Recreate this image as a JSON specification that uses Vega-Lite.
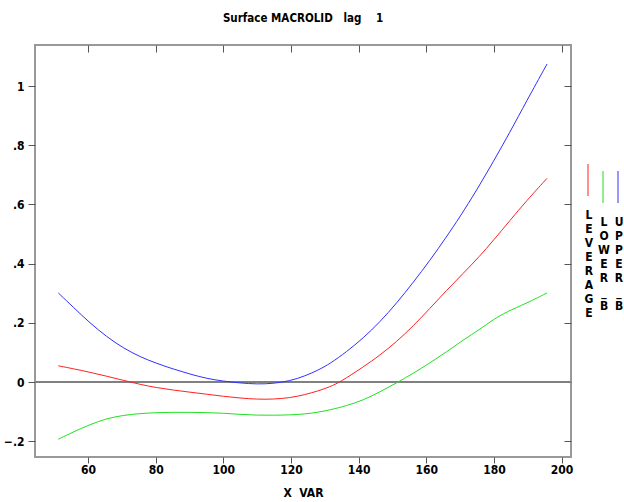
{
  "$schema": "https://vega.github.io/schema/vega-lite/v6.json",
  "width": 536,
  "height": 412,
  "autosize": {"type": "none"},
  "padding": {"left": 35, "top": 45, "right": 53, "bottom": 45},
  "background": "white",
  "title": {"text": "Surface MACROLID\u00a0\u00a0\u00a0lag\u00a0\u00a0\u00a0\u00a01", "fontSize": 11.5, "fontWeight": "bold", "color": "#000", "offset": 20, "anchor": "middle"},
  "data": {"values": [
    {"x": 51.2, "v": 0.301, "series": "UPPER_B"},
    {"x": 55.7, "v": 0.252, "series": "UPPER_B"},
    {"x": 60.6, "v": 0.199, "series": "UPPER_B"},
    {"x": 65.5, "v": 0.153, "series": "UPPER_B"},
    {"x": 70.4, "v": 0.115, "series": "UPPER_B"},
    {"x": 75.4, "v": 0.085, "series": "UPPER_B"},
    {"x": 80.3, "v": 0.063, "series": "UPPER_B"},
    {"x": 85.2, "v": 0.044, "series": "UPPER_B"},
    {"x": 90.1, "v": 0.027, "series": "UPPER_B"},
    {"x": 95.1, "v": 0.012, "series": "UPPER_B"},
    {"x": 100.0, "v": 0.003, "series": "UPPER_B"},
    {"x": 104.9, "v": -0.003, "series": "UPPER_B"},
    {"x": 109.9, "v": -0.007, "series": "UPPER_B"},
    {"x": 114.8, "v": -0.005, "series": "UPPER_B"},
    {"x": 119.7, "v": 0.004, "series": "UPPER_B"},
    {"x": 124.0, "v": 0.020, "series": "UPPER_B"},
    {"x": 128.0, "v": 0.040, "series": "UPPER_B"},
    {"x": 131.5, "v": 0.062, "series": "UPPER_B"},
    {"x": 136.4, "v": 0.102, "series": "UPPER_B"},
    {"x": 141.4, "v": 0.149, "series": "UPPER_B"},
    {"x": 146.3, "v": 0.203, "series": "UPPER_B"},
    {"x": 151.2, "v": 0.266, "series": "UPPER_B"},
    {"x": 156.1, "v": 0.336, "series": "UPPER_B"},
    {"x": 161.1, "v": 0.411, "series": "UPPER_B"},
    {"x": 166.0, "v": 0.491, "series": "UPPER_B"},
    {"x": 169.9, "v": 0.557, "series": "UPPER_B"},
    {"x": 174.9, "v": 0.648, "series": "UPPER_B"},
    {"x": 179.8, "v": 0.744, "series": "UPPER_B"},
    {"x": 184.7, "v": 0.843, "series": "UPPER_B"},
    {"x": 189.6, "v": 0.948, "series": "UPPER_B"},
    {"x": 195.7, "v": 1.074, "series": "UPPER_B"},
    {"x": 51.2, "v": 0.055, "series": "LEVERAGE"},
    {"x": 55.7, "v": 0.045, "series": "LEVERAGE"},
    {"x": 60.6, "v": 0.033, "series": "LEVERAGE"},
    {"x": 65.5, "v": 0.020, "series": "LEVERAGE"},
    {"x": 70.4, "v": 0.006, "series": "LEVERAGE"},
    {"x": 75.4, "v": -0.008, "series": "LEVERAGE"},
    {"x": 80.3, "v": -0.019, "series": "LEVERAGE"},
    {"x": 85.2, "v": -0.027, "series": "LEVERAGE"},
    {"x": 90.1, "v": -0.034, "series": "LEVERAGE"},
    {"x": 95.1, "v": -0.041, "series": "LEVERAGE"},
    {"x": 100.0, "v": -0.048, "series": "LEVERAGE"},
    {"x": 104.9, "v": -0.054, "series": "LEVERAGE"},
    {"x": 109.9, "v": -0.058, "series": "LEVERAGE"},
    {"x": 114.8, "v": -0.058, "series": "LEVERAGE"},
    {"x": 119.7, "v": -0.053, "series": "LEVERAGE"},
    {"x": 124.0, "v": -0.043, "series": "LEVERAGE"},
    {"x": 128.0, "v": -0.030, "series": "LEVERAGE"},
    {"x": 131.5, "v": -0.016, "series": "LEVERAGE"},
    {"x": 134.5, "v": 0.000, "series": "LEVERAGE"},
    {"x": 141.4, "v": 0.051, "series": "LEVERAGE"},
    {"x": 146.3, "v": 0.091, "series": "LEVERAGE"},
    {"x": 151.2, "v": 0.136, "series": "LEVERAGE"},
    {"x": 156.1, "v": 0.189, "series": "LEVERAGE"},
    {"x": 161.1, "v": 0.249, "series": "LEVERAGE"},
    {"x": 166.0, "v": 0.310, "series": "LEVERAGE"},
    {"x": 170.9, "v": 0.367, "series": "LEVERAGE"},
    {"x": 175.8, "v": 0.425, "series": "LEVERAGE"},
    {"x": 179.8, "v": 0.478, "series": "LEVERAGE"},
    {"x": 184.7, "v": 0.545, "series": "LEVERAGE"},
    {"x": 189.6, "v": 0.612, "series": "LEVERAGE"},
    {"x": 195.7, "v": 0.688, "series": "LEVERAGE"},
    {"x": 51.2, "v": -0.193, "series": "LOWER_B"},
    {"x": 55.7, "v": -0.168, "series": "LOWER_B"},
    {"x": 60.6, "v": -0.143, "series": "LOWER_B"},
    {"x": 65.5, "v": -0.123, "series": "LOWER_B"},
    {"x": 70.4, "v": -0.112, "series": "LOWER_B"},
    {"x": 75.4, "v": -0.106, "series": "LOWER_B"},
    {"x": 80.3, "v": -0.103, "series": "LOWER_B"},
    {"x": 85.2, "v": -0.102, "series": "LOWER_B"},
    {"x": 90.1, "v": -0.102, "series": "LOWER_B"},
    {"x": 95.1, "v": -0.103, "series": "LOWER_B"},
    {"x": 100.0, "v": -0.105, "series": "LOWER_B"},
    {"x": 104.9, "v": -0.109, "series": "LOWER_B"},
    {"x": 109.9, "v": -0.112, "series": "LOWER_B"},
    {"x": 114.8, "v": -0.112, "series": "LOWER_B"},
    {"x": 119.7, "v": -0.111, "series": "LOWER_B"},
    {"x": 124.0, "v": -0.108, "series": "LOWER_B"},
    {"x": 128.0, "v": -0.102, "series": "LOWER_B"},
    {"x": 131.5, "v": -0.094, "series": "LOWER_B"},
    {"x": 136.4, "v": -0.080, "series": "LOWER_B"},
    {"x": 141.4, "v": -0.061, "series": "LOWER_B"},
    {"x": 146.3, "v": -0.033, "series": "LOWER_B"},
    {"x": 151.2, "v": -0.003, "series": "LOWER_B"},
    {"x": 156.1, "v": 0.029, "series": "LOWER_B"},
    {"x": 161.1, "v": 0.065, "series": "LOWER_B"},
    {"x": 166.0, "v": 0.102, "series": "LOWER_B"},
    {"x": 170.9, "v": 0.142, "series": "LOWER_B"},
    {"x": 175.8, "v": 0.178, "series": "LOWER_B"},
    {"x": 179.8, "v": 0.211, "series": "LOWER_B"},
    {"x": 183.7, "v": 0.237, "series": "LOWER_B"},
    {"x": 189.6, "v": 0.266, "series": "LOWER_B"},
    {"x": 195.7, "v": 0.301, "series": "LOWER_B"}
  ]},
  "layer": [
    {
      "mark": {"type": "rule", "color": "#808080", "strokeWidth": 1.5},
      "encoding": {"y": {"datum": 0, "type": "quantitative", "axis": null}}
    },
    {
      "mark": {"type": "line", "strokeWidth": 1, "interpolate": "basis"},
      "encoding": {
        "x": {"field": "x", "type": "quantitative", "scale": {"domain": [44.3, 202.8], "nice": false, "zero": false},
              "axis": {"orient": "bottom", "values": [60, 80, 100, 120, 140, 160, 180, 200], "tickSize": 6, "labelPadding": 1, "title": "X\u00a0\u00a0VAR", "titlePadding": 12}},
        "y": {"field": "v", "type": "quantitative", "scale": {"domain": [-0.253, 1.1385], "nice": false, "zero": false},
              "axis": {"orient": "left", "values": [-0.2, 0, 0.2, 0.4, 0.6, 0.8, 1], "tickSize": 7, "labelPadding": 4, "title": null,
                       "labelExpr": "replace(format(datum.value, '.1~f'), '0.', '.')"}},
        "color": {"field": "series", "type": "nominal",
                  "scale": {"domain": ["LEVERAGE", "LOWER_B", "UPPER_B"], "range": ["#ff2020", "#20e020", "#3030ff"]},
                  "legend": {"orient": "none", "legendX": 547, "legendY": 159, "direction": "horizontal", "columns": 3, "gridAlign": "all",
                             "title": null, "symbolType": "M0,-11.5L0,-3.5", "symbolSize": 64, "symbolStrokeWidth": 1,
                             "labelExpr": "split(datum.label, '')", "labelBaseline": "top", "labelAlign": "center",
                             "labelOffset": -5, "columnPadding": 2, "labelFontSize": 12, "labelFontWeight": "bold", "labelColor": "#000"}}
      }
    },
    {
      "mark": {"type": "line", "strokeOpacity": 0},
      "encoding": {
        "x": {"field": "x", "type": "quantitative", "axis": {"orient": "top", "values": [60, 80, 100, 120, 140, 160, 180, 200], "labels": false, "tickSize": -7, "title": null}},
        "y": {"field": "v", "type": "quantitative", "axis": {"orient": "right", "values": [-0.2, 0, 0.2, 0.4, 0.6, 0.8, 1], "labels": false, "tickSize": -7, "title": null}},
        "detail": {"field": "series"}
      }
    }
  ],
  "resolve": {"axis": {"x": "independent", "y": "independent"}},
  "config": {
    "font": "Liberation Sans Narrow, DejaVu Sans Condensed, Liberation Sans, sans-serif",
    "view": {"stroke": "#999999", "strokeWidth": 2},
    "axis": {"domain": false, "grid": false, "tickColor": "#555555", "labelFontSize": 12, "labelFontWeight": "bold", "labelColor": "#000",
             "titleFontSize": 12, "titleFontWeight": "bold", "titleColor": "#000"}
  }
}
